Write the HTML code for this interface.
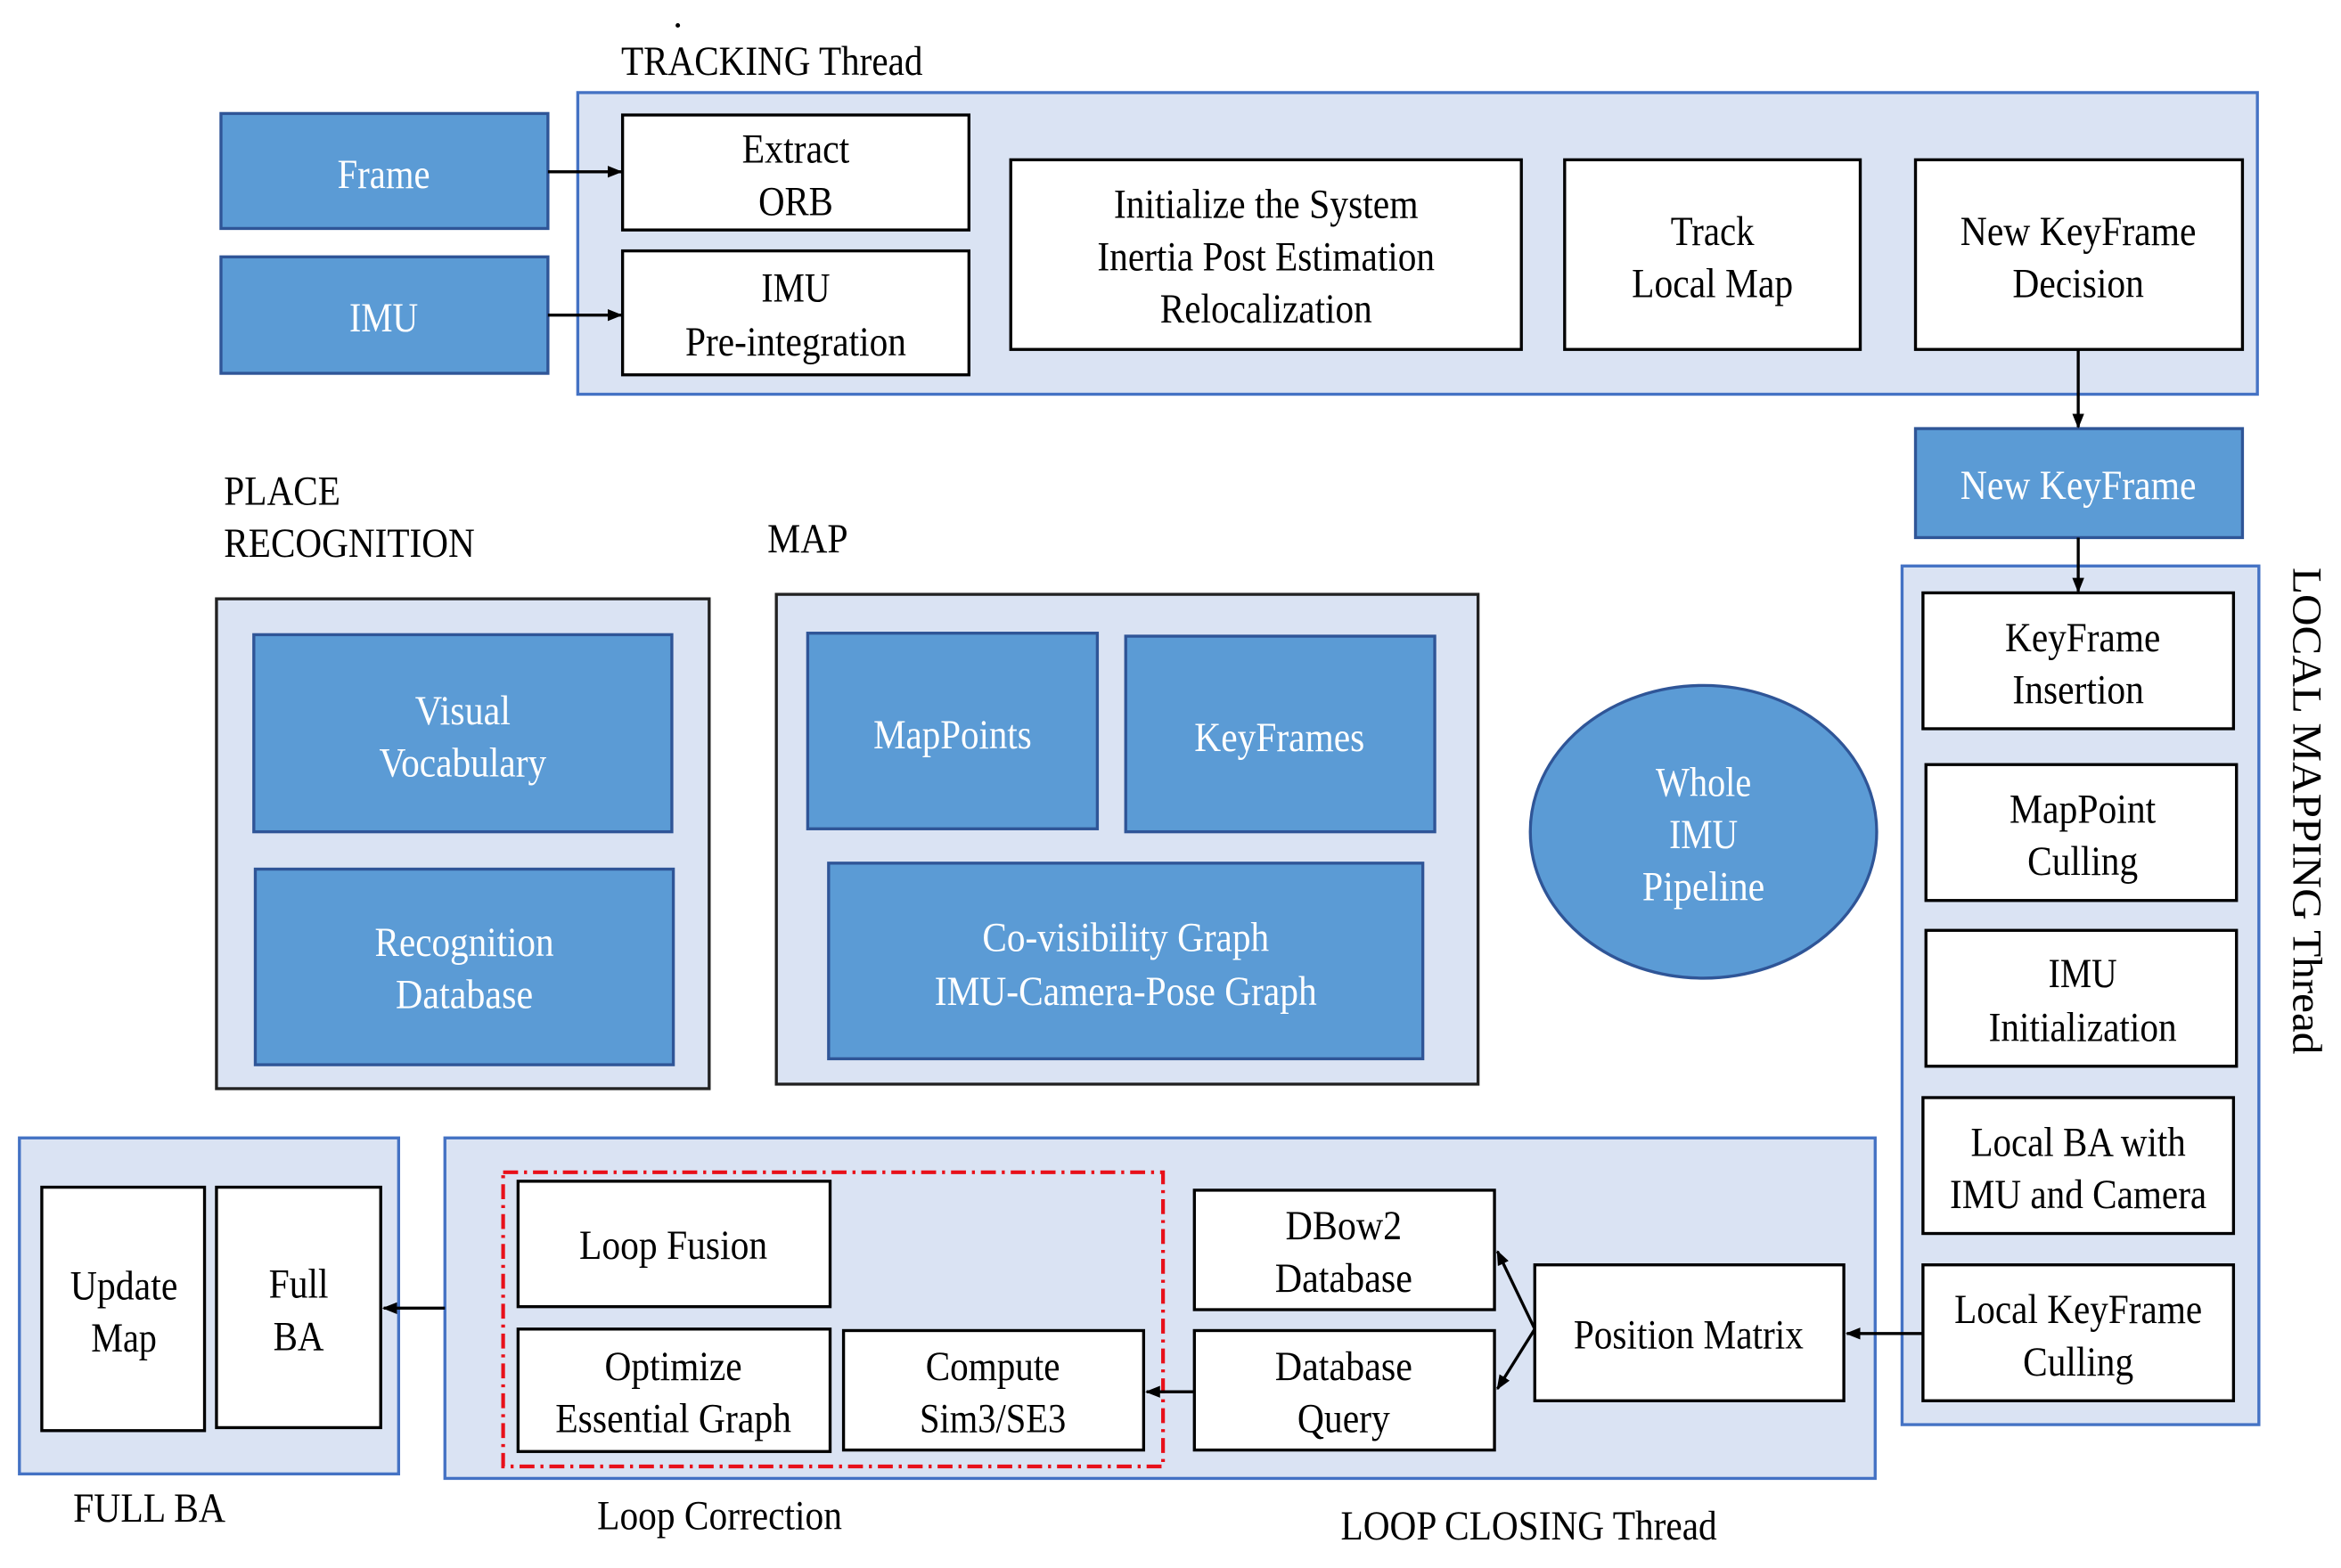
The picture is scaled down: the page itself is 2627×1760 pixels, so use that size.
<!DOCTYPE html>
<html><head><meta charset="utf-8"><style>
html,body{margin:0;padding:0;background:#fff;}
svg{display:block}
text{font-family:"Liberation Serif",serif;font-size:28px;}
.w{fill:#fff}
</style></head><body>
<svg width="2627" height="1760" viewBox="0 0 1568 1050" preserveAspectRatio="none" xmlns="http://www.w3.org/2000/svg">
<defs><marker id="a" markerWidth="10" markerHeight="10" refX="9" refY="5" orient="auto" markerUnits="userSpaceOnUse"><path d="M0,1 L10,5 L0,9 z" fill="#000"/></marker></defs>
<g fill="#dae3f3" stroke="#4472c4" stroke-width="2">
<rect x="387" y="62" width="1125" height="202"/>
<rect x="1274" y="379" width="239" height="575"/>
<rect x="13" y="762" width="254" height="225"/>
<rect x="298" y="762" width="958" height="228"/>
</g>
<g fill="#dae3f3" stroke="#222" stroke-width="2">
<rect x="145" y="401" width="330" height="328"/>
<rect x="520" y="398" width="470" height="328"/>
</g>
<g fill="#5b9bd5" stroke="#2f5597" stroke-width="2">
<rect x="148" y="76" width="219" height="77"/>
<rect x="148" y="172" width="219" height="78"/>
<rect x="1283" y="287" width="219" height="73"/>
<rect x="170" y="425" width="280" height="132"/>
<rect x="171" y="582" width="280" height="131"/>
<rect x="541" y="424" width="194" height="131"/>
<rect x="754" y="426" width="207" height="131"/>
<rect x="555" y="578" width="398" height="131"/>
<ellipse cx="1141" cy="557" rx="116" ry="98"/>
</g>
<g fill="#fff" stroke="#000" stroke-width="2">
<rect x="417" y="77" width="232" height="77"/>
<rect x="417" y="168" width="232" height="83"/>
<rect x="677" y="107" width="342" height="127"/>
<rect x="1048" y="107" width="198" height="127"/>
<rect x="1283" y="107" width="219" height="127"/>
<rect x="1288" y="397" width="208" height="91"/>
<rect x="1290" y="512" width="208" height="91"/>
<rect x="1290" y="623" width="208" height="91"/>
<rect x="1288" y="735" width="208" height="91"/>
<rect x="1288" y="847" width="208" height="91"/>
<rect x="28" y="795" width="109" height="163"/>
<rect x="145" y="795" width="110" height="161"/>
<rect x="347" y="791" width="209" height="84"/>
<rect x="347" y="890" width="209" height="82"/>
<rect x="565" y="891" width="201" height="80"/>
<rect x="800" y="797" width="201" height="80"/>
<rect x="800" y="891" width="201" height="80"/>
<rect x="1028" y="847" width="207" height="91"/>
</g>
<rect x="337" y="785" width="442" height="197" fill="none" stroke="#e8101a" stroke-width="2.5" stroke-dasharray="10,4,2,4"/>
<g stroke="#000" stroke-width="2" fill="none" marker-end="url(#a)">
<line x1="367" y1="115" x2="416" y2="115"/>
<line x1="367" y1="211" x2="416" y2="211"/>
<line x1="1392" y1="234" x2="1392" y2="286"/>
<line x1="1392" y1="360" x2="1392" y2="396"/>
<line x1="1288" y1="893" x2="1237" y2="893"/>
<line x1="1028" y1="890" x2="1003" y2="838"/>
<line x1="1028" y1="890" x2="1003" y2="930"/>
<line x1="800" y1="932" x2="768" y2="932"/>
<line x1="298" y1="876" x2="257" y2="876"/>
</g>
<g text-anchor="middle" lengthAdjust="spacingAndGlyphs">
<text x="257" y="126" class="w" textLength="62" lengthAdjust="spacingAndGlyphs">Frame</text>
<text x="257" y="222" class="w" textLength="46" lengthAdjust="spacingAndGlyphs">IMU</text>
<text x="533" y="109" textLength="72" lengthAdjust="spacingAndGlyphs">Extract</text>
<text x="533" y="144" textLength="50" lengthAdjust="spacingAndGlyphs">ORB</text>
<text x="533" y="202" textLength="46" lengthAdjust="spacingAndGlyphs">IMU</text>
<text x="533" y="238" textLength="148" lengthAdjust="spacingAndGlyphs">Pre-integration</text>
<text x="848" y="146" textLength="204" lengthAdjust="spacingAndGlyphs">Initialize the System</text>
<text x="848" y="181" textLength="226" lengthAdjust="spacingAndGlyphs">Inertia Post Estimation</text>
<text x="848" y="216" textLength="142" lengthAdjust="spacingAndGlyphs">Relocalization</text>
<text x="1147" y="164" textLength="56" lengthAdjust="spacingAndGlyphs">Track</text>
<text x="1147" y="199" textLength="108" lengthAdjust="spacingAndGlyphs">Local Map</text>
<text x="1392" y="164" textLength="158" lengthAdjust="spacingAndGlyphs">New KeyFrame</text>
<text x="1392" y="199" textLength="88" lengthAdjust="spacingAndGlyphs">Decision</text>
<text x="1392" y="334" class="w" textLength="158" lengthAdjust="spacingAndGlyphs">New KeyFrame</text>
<text x="1395" y="436" textLength="104" lengthAdjust="spacingAndGlyphs">KeyFrame</text>
<text x="1392" y="471" textLength="88" lengthAdjust="spacingAndGlyphs">Insertion</text>
<text x="1395" y="551" textLength="98" lengthAdjust="spacingAndGlyphs">MapPoint</text>
<text x="1395" y="586" textLength="74" lengthAdjust="spacingAndGlyphs">Culling</text>
<text x="1395" y="661" textLength="46" lengthAdjust="spacingAndGlyphs">IMU</text>
<text x="1395" y="697" textLength="126" lengthAdjust="spacingAndGlyphs">Initialization</text>
<text x="1392" y="774" textLength="144" lengthAdjust="spacingAndGlyphs">Local BA with</text>
<text x="1392" y="809" textLength="172" lengthAdjust="spacingAndGlyphs">IMU and Camera</text>
<text x="1392" y="886" textLength="166" lengthAdjust="spacingAndGlyphs">Local KeyFrame</text>
<text x="1392" y="921" textLength="74" lengthAdjust="spacingAndGlyphs">Culling</text>
<text x="310" y="485" class="w" textLength="64" lengthAdjust="spacingAndGlyphs">Visual</text>
<text x="310" y="520" class="w" textLength="112" lengthAdjust="spacingAndGlyphs">Vocabulary</text>
<text x="311" y="640" class="w" textLength="120" lengthAdjust="spacingAndGlyphs">Recognition</text>
<text x="311" y="675" class="w" textLength="92" lengthAdjust="spacingAndGlyphs">Database</text>
<text x="638" y="501" class="w" textLength="106" lengthAdjust="spacingAndGlyphs">MapPoints</text>
<text x="857" y="503" class="w" textLength="114" lengthAdjust="spacingAndGlyphs">KeyFrames</text>
<text x="754" y="637" class="w" textLength="192" lengthAdjust="spacingAndGlyphs">Co-visibility Graph</text>
<text x="754" y="673" class="w" textLength="256" lengthAdjust="spacingAndGlyphs">IMU-Camera-Pose Graph</text>
<text x="1141" y="533" class="w" textLength="64" lengthAdjust="spacingAndGlyphs">Whole</text>
<text x="1141" y="568" class="w" textLength="46" lengthAdjust="spacingAndGlyphs">IMU</text>
<text x="1141" y="603" class="w" textLength="82" lengthAdjust="spacingAndGlyphs">Pipeline</text>
<text x="83" y="870" textLength="72" lengthAdjust="spacingAndGlyphs">Update</text>
<text x="83" y="905" textLength="44" lengthAdjust="spacingAndGlyphs">Map</text>
<text x="200" y="869" textLength="40" lengthAdjust="spacingAndGlyphs">Full</text>
<text x="200" y="904" textLength="34" lengthAdjust="spacingAndGlyphs">BA</text>
<text x="451" y="843" textLength="126" lengthAdjust="spacingAndGlyphs">Loop Fusion</text>
<text x="451" y="924" textLength="92" lengthAdjust="spacingAndGlyphs">Optimize</text>
<text x="451" y="959" textLength="158" lengthAdjust="spacingAndGlyphs">Essential Graph</text>
<text x="665" y="924" textLength="90" lengthAdjust="spacingAndGlyphs">Compute</text>
<text x="665" y="959" textLength="98" lengthAdjust="spacingAndGlyphs">Sim3/SE3</text>
<text x="900" y="830" textLength="78" lengthAdjust="spacingAndGlyphs">DBow2</text>
<text x="900" y="865" textLength="92" lengthAdjust="spacingAndGlyphs">Database</text>
<text x="900" y="924" textLength="92" lengthAdjust="spacingAndGlyphs">Database</text>
<text x="900" y="959" textLength="62" lengthAdjust="spacingAndGlyphs">Query</text>
<text x="1131" y="903" textLength="154" lengthAdjust="spacingAndGlyphs">Position Matrix</text>
</g>
<g>
<text x="416" y="50" textLength="202" lengthAdjust="spacingAndGlyphs">TRACKING Thread</text>
<text x="150" y="338" textLength="78" lengthAdjust="spacingAndGlyphs">PLACE</text>
<text x="150" y="373" textLength="168" lengthAdjust="spacingAndGlyphs">RECOGNITION</text>
<text x="514" y="370" textLength="54" lengthAdjust="spacingAndGlyphs">MAP</text>
<text x="49" y="1019" textLength="102" lengthAdjust="spacingAndGlyphs">FULL BA</text>
<text x="400" y="1024" textLength="164" lengthAdjust="spacingAndGlyphs">Loop Correction</text>
<text x="898" y="1031" textLength="252" lengthAdjust="spacingAndGlyphs">LOOP CLOSING Thread</text>
<text transform="translate(1536,380) rotate(90)" x="0" y="0" textLength="326" lengthAdjust="spacingAndGlyphs">LOCAL MAPPING Thread</text>
<circle cx="454" cy="17" r="1.5" fill="#000"/>
</g>
</svg>
</body></html>
